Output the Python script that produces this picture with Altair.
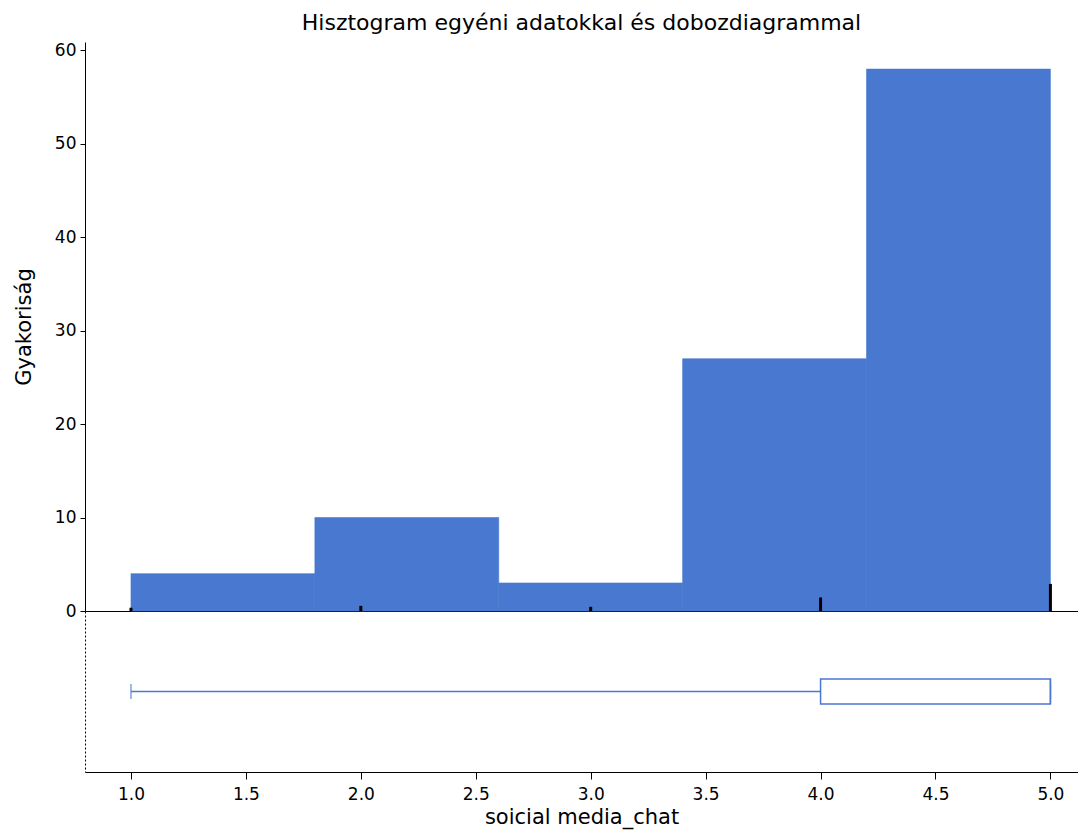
import altair as alt
import pandas as pd
import numpy as np

# ---- data ----
values = [1, 2, 3, 4, 5]
value_counts = [4, 10, 3, 27, 58]
bin_starts = [1.0, 1.8, 2.6, 3.4, 4.2]
bin_ends = [1.8, 2.6, 3.4, 4.2, 5.0]
bin_counts = [4, 10, 3, 27, 58]
rug_heights = [0.35, 0.55, 0.45, 1.45, 2.9]
x_ticks = [1.0, 1.5, 2.0, 2.5, 3.0, 3.5, 4.0, 4.5, 5.0]
y_ticks = [0, 10, 20, 30, 40, 50, 60]

BLUE = "#4878cf"
FONT = "DejaVu Sans"

raw = np.repeat(values, value_counts)
q1, med, q3 = np.percentile(raw, [25, 50, 75])
lo, hi = float(raw.min()), float(raw.max())

hist = pd.DataFrame({"x0": bin_starts, "x1": bin_ends, "count": bin_counts})
rug = pd.DataFrame({"value": values, "h": rug_heights})
box = pd.DataFrame({"var": ["soicial media_chat"], "lo": [lo], "q1": [q1],
                    "med": [med], "q3": [q3], "hi": [hi]})

xs = alt.Scale(domain=[0.8, 5.12], nice=False, zero=False)
ys = alt.Scale(domain=[0, 60.9], nice=False)

top_x_axis = alt.Axis(labels=False, ticks=False, title=None, grid=False,
                      domainColor="black", domainWidth=1.2,
                      minExtent=0, maxExtent=0, offset=0)

bars = alt.Chart(hist).mark_rect(color=BLUE, stroke=BLUE, strokeWidth=0.6).encode(
    x=alt.X("x0:Q", scale=xs, axis=top_x_axis),
    x2="x1:Q",
    y=alt.Y("count:Q", scale=ys,
            axis=alt.Axis(values=y_ticks, title="Gyakoriság", grid=False,
                          labelPadding=4, titlePadding=20, tickSize=5)),
    y2=alt.datum(0),
)

rugs = alt.Chart(rug).mark_rule(color="black", strokeWidth=3).encode(
    x=alt.X("value:Q", scale=xs),
    y=alt.Y("h:Q", scale=ys),
    y2=alt.datum(0),
)

top = alt.layer(bars, rugs).properties(
    width=993, height=569,
    title=alt.TitleParams("Hisztogram egyéni adatokkal és dobozdiagrammal",
                          fontSize=22, font=FONT, fontWeight="normal",
                          color="black", anchor="middle", offset=6),
)

yb = alt.Y("var:N", axis=alt.Axis(labels=False, ticks=False, title=None,
                                  domainDash=[2, 2], domainColor="black"))
bottom_x_axis = alt.Axis(values=x_ticks, format=".1f", title="soicial media_chat",
                         grid=False, tickSize=7, labelPadding=7, titlePadding=4)

whisker = alt.Chart(box).mark_rule(color=BLUE, strokeWidth=1.5).encode(
    x=alt.X("lo:Q", scale=xs, axis=bottom_x_axis), x2="q1:Q", y=yb)
cap_lo = alt.Chart(box).mark_tick(color=BLUE, orient="vertical", size=15,
                                  thickness=1.5).encode(
    x=alt.X("lo:Q", scale=xs), y=yb)
cap_hi = alt.Chart(box).mark_tick(color=BLUE, orient="vertical", size=15,
                                  thickness=1.5).encode(
    x=alt.X("hi:Q", scale=xs), y=yb)
boxes = alt.Chart(box).mark_bar(size=25, fill="white", stroke=BLUE,
                                strokeWidth=1.5).encode(
    x=alt.X("q1:Q", scale=xs), x2="q3:Q", y=yb)
median = alt.Chart(box).mark_tick(color=BLUE, orient="vertical", size=25,
                                  thickness=1.5).encode(
    x=alt.X("med:Q", scale=xs), y=yb)

bottom = alt.layer(whisker, cap_lo, cap_hi, boxes, median).properties(
    width=993, height=161)

chart = alt.vconcat(top, bottom, spacing=0, bounds="flush").properties(
    padding={"top": 4, "bottom": 3, "left": 5, "right": 0}
).configure(
    background="white"
).configure_view(
    stroke=None
).configure_axis(
    labelFont=FONT, titleFont=FONT, labelFontSize=17, titleFontSize=21,
    labelColor="black", titleColor="black", tickColor="black",
    domainColor="black", titleFontWeight="normal",
)

chart.save("out.html", embed_options={"renderer": "svg", "actions": False})
